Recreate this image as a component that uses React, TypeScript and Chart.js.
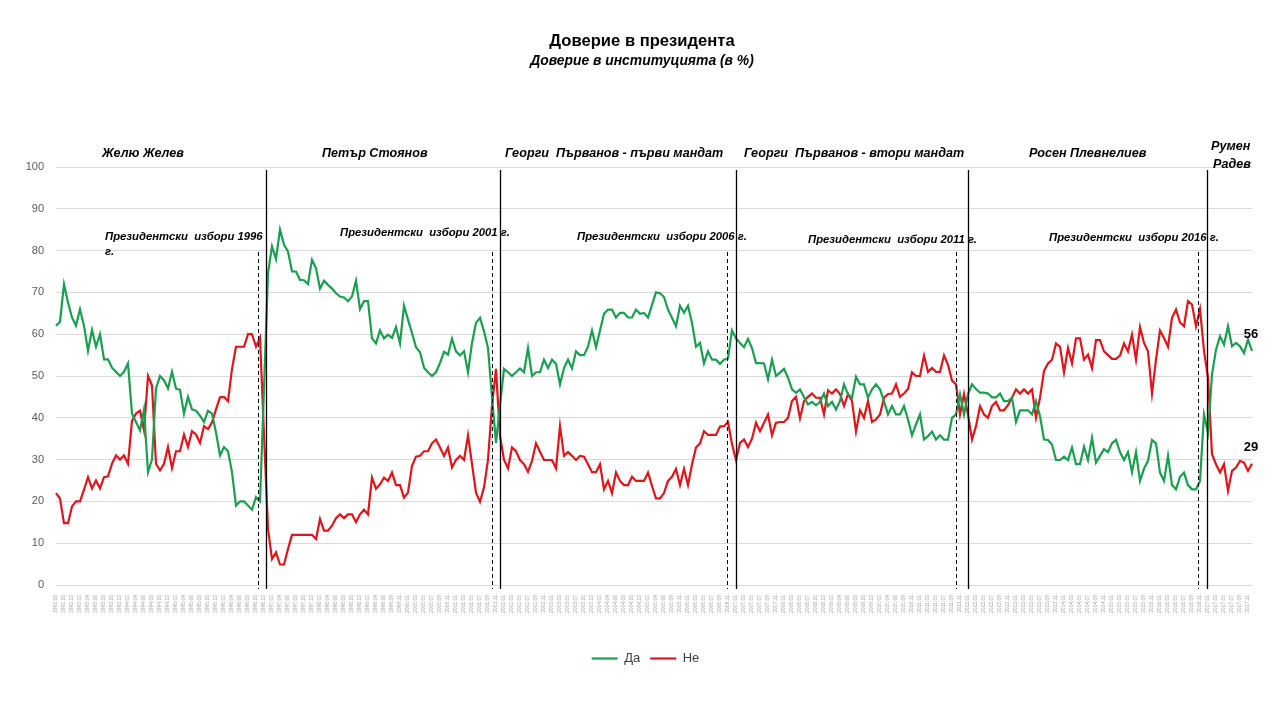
import React, { useEffect, useRef } from "react";
import { Chart, registerables } from "chart.js";

Chart.register(...registerables);

const labels: string[] = [
  "1992.08","1992.09","1992.10","1992.11","1992.12",
  "1993.01","1993.02","1993.03","1993.04","1993.05","1993.06","1993.07","1993.08","1993.09","1993.10","1993.11","1993.12",
  "1994.01","1994.02","1994.03","1994.04","1994.05","1994.06","1994.07","1994.08","1994.09","1994.10","1994.11","1994.12",
  "1995.01","1995.02","1995.03","1995.04","1995.05","1995.06","1995.07","1995.08","1995.09","1995.10","1995.11","1995.12",
  "1996.01","1996.02","1996.03","1996.04","1996.05","1996.06","1996.07","1996.08","1996.09","1996.10","1996.11","1996.12",
  "1997.01","1997.02","1997.03","1997.04","1997.05","1997.06","1997.07","1997.08","1997.09","1997.10","1997.11","1997.12",
  "1998.01","1998.02","1998.03","1998.04","1998.05","1998.06","1998.07","1998.08","1998.09","1998.10","1998.11","1998.12",
  "1999.01","1999.02","1999.03","1999.04","1999.05","1999.06","1999.07","1999.09","1999.10","1999.11","1999.12",
  "2000.01","2000.02","2000.03","2000.04","2000.05","2000.06","2000.07","2000.08","2000.09","2000.10","2000.11","2000.12",
  "2001.01","2001.02","2001.03","2001.04","2001.05","2001.06","2001.07","2001.08","2001.09","2001.10","2001.11","2001.12",
  "2002.01","2002.02","2002.03","2002.04","2002.05","2002.06","2002.07","2002.08","2002.09","2002.10","2002.11","2002.12",
  "2003.01","2003.02","2003.03","2003.04","2003.05","2003.06","2003.07","2003.09","2003.10","2003.11","2003.12",
  "2004.01","2004.02","2004.03","2004.04","2004.05","2004.06","2004.07","2004.08","2004.09","2004.10","2004.11","2004.12",
  "2005.01","2005.02","2005.03","2005.04","2005.05","2005.06","2005.07","2005.09","2005.10","2005.11","2005.12",
  "2006.01","2006.02","2006.03","2006.04","2006.05","2006.06","2006.07","2006.08","2006.09","2006.10","2006.11","2006.12",
  "2007.01","2007.02","2007.03","2007.04","2007.05","2007.06","2007.07","2007.08","2007.09","2007.10","2007.11","2007.12",
  "2008.01","2008.02","2008.03","2008.04","2008.05","2008.06","2008.07","2008.09","2008.10","2008.11","2008.12",
  "2009.01","2009.02","2009.03","2009.04","2009.05","2009.06","2009.07","2009.08","2009.09","2009.10","2009.11","2009.12",
  "2010.01","2010.02","2010.03","2010.04","2010.05","2010.06","2010.07","2010.09","2010.10","2010.11","2010.12",
  "2011.01","2011.02","2011.03","2011.04","2011.05","2011.06","2011.07","2011.08","2011.09","2011.10","2011.11","2011.12",
  "2012.01","2012.02","2012.03","2012.04","2012.05","2012.06","2012.07","2012.08","2012.09","2012.10","2012.11","2012.12",
  "2013.01","2013.02","2013.03","2013.04","2013.05","2013.06","2013.07","2013.08","2013.09","2013.10","2013.11","2013.12",
  "2014.01","2014.02","2014.03","2014.04","2014.05","2014.06","2014.07","2014.08","2014.09","2014.10","2014.11","2014.12",
  "2015.01","2015.02","2015.03","2015.04","2015.05","2015.06","2015.07","2015.08","2015.09","2015.10","2015.11","2015.12",
  "2016.01","2016.02","2016.03","2016.04","2016.05","2016.06","2016.07","2016.08","2016.09","2016.10","2016.11","2016.12",
  "2017.01","2017.02","2017.03","2017.04","2017.05","2017.06","2017.07","2017.08","2017.09","2017.10","2017.11","2017.12",
];

// "Да" (trust)
const daValues: number[] = [
  62, 63, 72, 67.6, 64, 62, 66, 62, 56, 61, 57, 60, 54, 54, 52, 51, 50, 51, 53, 41, 39, 37, 42, 27, 30, 47,
  50, 49, 47, 51, 47, 46.7, 41, 45, 42, 41.7, 40.5, 39, 41.7, 41, 36.5, 31, 33, 32, 27, 19, 20, 20, 19, 18, 21, 20,
  47,
  74.6, 81, 78, 85, 81.4, 79.8, 75, 75, 73, 72.9, 72, 77.8, 75.8, 70.9, 72.8, 71.8, 70.9, 69.8, 69, 68.8, 67.9, 69,
  72.8, 66, 67.9, 67.9, 59, 57.8, 60.9, 59, 59.9, 59.1, 61.7, 57.8, 66.8, 63.5, 60.3, 56.9, 55.7, 52, 50.9, 50, 50.9,
  53.1, 55.8, 55.1, 58.9, 55.9, 54.9, 55.9, 50.9, 57.9, 62.7, 63.9, 60.7, 56.7, 45, 34,
  43, 51.7, 50.9, 50, 50.9, 51.8, 50.9, 56.7, 50, 50.9, 50.9, 53.9, 51.9, 53.9, 52.9, 48, 51.9, 53.9, 51.8, 55.9, 55,
  55, 57, 60.9, 56.9, 60.9, 64.9, 65.9, 65.9, 64, 65.1, 65.1, 64, 64, 65.9, 64.9, 65.1, 64, 67, 70, 69.8, 68.9, 65.9,
  63.9, 61.9, 66.8, 65.1, 66.8, 62.7, 57, 57.9, 53, 55.9, 53.9, 53.9, 52.9, 53.9, 54.2, 60.9, 59, 57.9,
  56.9, 58.9, 56.7, 53.1, 53.1, 53, 49.2, 53.9, 50, 50.8, 51.7, 49.6, 46.8, 46, 46.8, 45, 43.2, 43.8, 43, 43.8, 45.8,
  42.8, 43.8, 42, 44, 48, 45.6, 44.8, 49.8, 48, 48, 44.8, 46.8, 48, 46.8, 44, 40.8, 42.8, 40.8, 40.8, 42.8, 39.6, 35.8,
  38.4, 40.8, 34.8, 35.6, 36.7, 34.8, 35.8, 34.8, 34.8, 40, 40.8, 45.6, 40.8, 45.7, 48,
  46.9, 46, 46, 45.8, 44.9, 44.9, 45.8, 44, 44, 44.8, 39, 41.8, 41.8, 41.8, 40.8, 44, 40.4, 34.8, 34.7, 33.6, 29.9,
  29.9, 30.7, 29.9, 32.9, 28.9, 28.9, 33.1, 29.9, 35.2, 29.3, 30.9, 32.5, 31.8, 33.9, 34.7, 31.8, 29.9, 31.8, 27, 31.8,
  24.9, 27.8, 29.7, 34.7, 33.9, 26.9, 24.9, 30.9, 23.9, 22.9, 25.9, 26.9, 23.9, 22.9, 22.9, 24.9,
  40.8, 36.4, 50.4, 56.3, 59.5, 57.5, 61.9, 57.1, 57.9, 57.1, 55.5, 58.7, 56,
];

// "Не" (distrust)
const neValues: number[] = [
  22, 20.7, 14.8, 14.8, 18.8, 20, 20, 22.8, 25.8, 23.1, 25, 23.1, 25.8, 26, 29, 31, 30, 31, 29, 39.3, 41, 41.7, 37, 50,
  47.7, 29, 27.4, 29, 33, 28, 32, 32, 36, 33, 36.8, 36, 34, 38, 37.3, 38.9, 42, 44.9, 45, 44, 51.7, 57, 57, 57, 60, 60,
  57, 59.2,
  36,
  13.4, 6.2, 7.8, 4.9, 4.9, 8.6, 12, 12, 12, 12, 12, 12, 11, 15.8, 13, 13, 14.2, 16, 16.9, 16, 16.9, 16.9, 15, 16.9, 18,
  16.9, 25.7, 23, 24.1, 25.7, 24.9, 26.9, 23.9, 23.9, 20.9, 22.1, 28.5, 30.7, 30.9, 32, 32, 33.9, 34.8, 32.9, 30.9, 32.9,
  28.1, 29.9, 30.9, 29.9, 35.8, 28.9, 22.1, 19.9, 23.3, 30, 43, 51.7,
  35.6, 30, 27.9, 32.9, 32, 29.9, 28.9, 27.1, 29.7, 33.9, 31.9, 29.9, 29.9, 29.9, 27.9, 38, 30.9, 31.8, 30.9, 29.9, 30.9,
  30.7, 28.9, 27, 27, 28.9, 22.9, 24.9, 22, 26.9, 24.9, 23.9, 23.9, 25.9, 24.9, 24.9, 24.9, 26.9, 23.7, 20.7, 20.7, 22,
  24.9, 25.9, 27.8, 23.9, 27.8, 23.9, 28.9, 32.9, 33.9, 36.8, 35.9, 35.9, 35.9, 37.9, 38, 39, 33.7, 29.9, 34,
  34.8, 33, 35, 38.8, 36.8, 38.8, 40.8, 35.8, 38.8, 39, 39, 40, 44, 45, 39.9, 44, 45, 45.8, 44.8, 44.8, 40.8, 46.6, 45.8,
  46.8, 45.7, 42.8, 45.7, 44, 36.7, 41.8, 40, 44, 39, 39.6, 40.8, 44.8, 45.7, 45.8, 48, 45, 45.8, 46.9, 50.9, 50, 50,
  54.9, 51, 51.9, 51, 51, 54.9, 52.7, 48.9, 48, 40.8, 45.7, 40.8, 34.8,
  38, 42.8, 40.8, 40, 42.8, 43.8, 41.8, 41.8, 43, 44.8, 46.8, 45.8, 46.8, 45.8, 46.8, 40, 44.8, 51.2, 53, 53.9, 57.8, 57,
  50.9, 56.7, 53, 59, 59, 53.9, 55.1, 51.9, 58.6, 58.6, 55.9, 55, 54.1, 54.1, 54.9, 57.8, 55.9, 59.9, 53.9, 61.7, 57.9,
  55.9, 45.8, 53.9, 60.9, 59.1, 57, 63.9, 65.9, 62.8, 61.9, 67.9, 67.1, 61.9, 66,
  56, 49.6, 31.3, 28.9, 26.9, 28.9, 22.5, 27.3, 28.1, 29.7, 29.3, 27.3, 29,
];

const seriesNames = ["Да", "Не"];
const seriesColors = ["#1a9e4f", "#e0151b"];
const endLabels = ["56", "29"];

const titleText = "Доверие в президента";
const subtitleText = "Доверие в институцията (в %)";

// Term boundaries (category index positions) and election dates
const termLines = [52.5, 111, 170, 228, 287.75];
const electionLines = [50.5, 109.1, 167.75, 225, 285.6];

const presidentLabels = [
  "Желю Желев",
  "Петър Стоянов",
  "Георги  Първанов - първи мандат",
  "Георги  Първанов - втори мандат",
  "Росен Плевнелиев",
];
const lastPresident = ["Румен", "Радев"];
const electionLabels = [
  "Президентски  избори 1996",
  "Президентски  избори 2001 г.",
  "Президентски  избори 2006 г.",
  "Президентски  избори 2011 г.",
  "Президентски  избори 2016 г.",
];

const FONT = "'Liberation Sans', Arial, sans-serif";

export default function App() {
  const ref = useRef<HTMLCanvasElement>(null);

  useEffect(() => {
    const canvas = ref.current;
    if (!canvas) return;

    const legendShift = {
      id: "legendShift",
      afterLayout(chart: any) {
        const lg = chart.legend;
        if (lg) {
          lg.left += 14;
          lg.right += 14;
        }
      },
    };

    const annot = {
      id: "annot",
      afterDatasetsDraw(chart: any) {
        const ctx = chart.ctx;
        const xs = chart.scales.x;
        const step = xs.getPixelForValue(1) - xs.getPixelForValue(0);
        const px = (v: number) => xs.getPixelForValue(Math.floor(v)) + (v - Math.floor(v)) * step;
        const bottom = chart.chartArea.bottom + 4;
        ctx.save();
        // solid term lines
        ctx.strokeStyle = "#000";
        ctx.lineWidth = 1.3;
        termLines.forEach((v) => {
          const x = Math.round(px(v)) + 0.5;
          ctx.beginPath();
          ctx.moveTo(x, 170);
          ctx.lineTo(x, bottom);
          ctx.stroke();
        });
        // dashed election lines
        ctx.lineWidth = 1;
        ctx.setLineDash([4, 3]);
        electionLines.forEach((v) => {
          const x = Math.round(px(v)) + 0.5;
          ctx.beginPath();
          ctx.moveTo(x, 252);
          ctx.lineTo(x, bottom);
          ctx.stroke();
        });
        ctx.setLineDash([]);

        // title
        ctx.fillStyle = "#000";
        ctx.textAlign = "center";
        ctx.textBaseline = "middle";
        ctx.font = `bold 16.6px ${FONT}`;
        ctx.fillText(titleText, 642, 41);
        ctx.font = `italic bold 13.9px ${FONT}`;
        ctx.fillText(subtitleText, 642, 61);

        // president labels
        ctx.textAlign = "left";
        ctx.font = `italic bold 12.6px ${FONT}`;
        const presX = [102, 322, 505, 744, 1029];
        presidentLabels.forEach((t, i) => ctx.fillText(t, presX[i], 154));
        ctx.fillText(lastPresident[0], 1211, 147);
        ctx.fillText(lastPresident[1], 1213, 165);

        // election labels
        ctx.font = `italic bold 11.3px ${FONT}`;
        const elX = [105, 340, 577, 808, 1049];
        const elY = [237, 233, 237, 240, 238];
        electionLabels.forEach((t, i) => ctx.fillText(t, elX[i], elY[i]));
        ctx.fillText("г.", 105, 252);

        // end labels
        ctx.textAlign = "center";
        ctx.font = `bold 13px ${FONT}`;
        chart.data.datasets.forEach((ds: any, i: number) => {
          const meta = chart.getDatasetMeta(i);
          const pt = meta.data[meta.data.length - 1];
          ctx.fillText(endLabels[i], pt.x - 1, pt.y - 16);
        });
        ctx.restore();
      },
    };

    const chart = new Chart(canvas, {
      type: "line",
      data: {
        labels,
        datasets: [
          {
            label: seriesNames[0],
            data: daValues,
            borderColor: seriesColors[0],
            backgroundColor: seriesColors[0],
            borderWidth: 2.2,
            pointRadius: 0,
            tension: 0,
          },
          {
            label: seriesNames[1],
            data: neValues,
            borderColor: seriesColors[1],
            backgroundColor: seriesColors[1],
            borderWidth: 2.2,
            pointRadius: 0,
            tension: 0,
          },
        ],
      },
      options: {
        responsive: false,
        animation: false,
        layout: { padding: { top: 167, left: 11, right: 28, bottom: 45 } },
        plugins: {
          legend: {
            position: "bottom",
            labels: {
              usePointStyle: true,
              pointStyle: "line",
              pointStyleWidth: 26,
              color: "#404040",
              font: { family: FONT, size: 13 },
              padding: 10,
            },
          },
          tooltip: { enabled: false },
          title: { display: false },
        },
        scales: {
          x: {
            grid: { display: false },
            border: { display: true, color: "#d9d9d9" },
            ticks: {
              autoSkip: false,
              minRotation: 90,
              maxRotation: 90,
              color: "#a6a6a6",
              font: { family: FONT, size: 5 },
              padding: 2,
              callback: (_v: any, i: number) => (i % 2 === 0 ? labels[i] : ""),
            },
            afterFit: (s: any) => {
              s.height = 57;
            },
          },
          y: {
            min: 0,
            max: 100,
            ticks: {
              stepSize: 10,
              color: "#595959",
              font: { family: FONT, size: 11 },
              padding: 12,
            },
            grid: { color: "#d9d9d9", drawTicks: false },
            border: { display: false },
            afterFit: (s: any) => {
              s.width = 45;
            },
          },
        },
      },
      plugins: [legendShift, annot],
    });

    return () => chart.destroy();
  }, []);

  return (
    <div style={{ position: "fixed", left: 0, top: 0, width: 1280, height: 720, background: "#fff" }}>
      <canvas ref={ref} width={1280} height={720} style={{ width: 1280, height: 720, display: "block" }} />
    </div>
  );
}
